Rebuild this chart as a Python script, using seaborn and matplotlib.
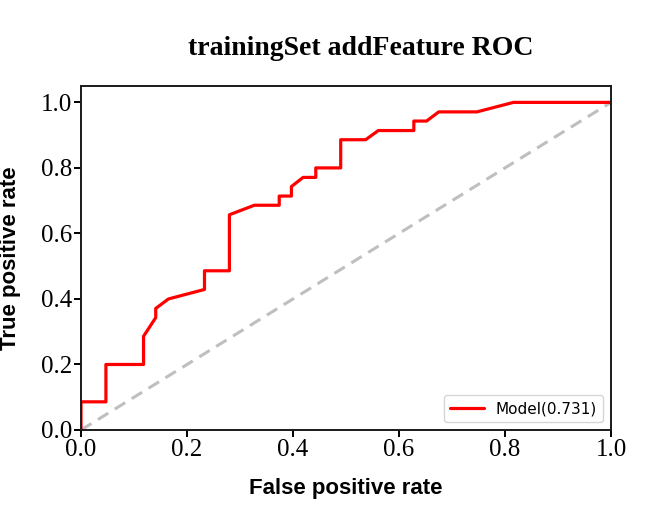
import matplotlib
matplotlib.use("Agg")
import matplotlib.pyplot as plt
import seaborn as sns
import pandas as pd

# ROC curve points
fpr = [0.0, 0.0, 0.047, 0.047, 0.118, 0.118, 0.141, 0.141, 0.165, 0.233, 0.233,
       0.280, 0.280, 0.327, 0.374, 0.374, 0.397, 0.397, 0.419, 0.443, 0.443,
       0.490, 0.490, 0.537, 0.561, 0.628, 0.628, 0.652, 0.675, 0.747, 0.816, 1.0]
tpr = [0.0, 0.086, 0.086, 0.200, 0.200, 0.286, 0.343, 0.371, 0.400, 0.429, 0.486,
       0.486, 0.657, 0.686, 0.686, 0.714, 0.714, 0.743, 0.771, 0.771, 0.800,
       0.800, 0.886, 0.886, 0.914, 0.914, 0.943, 0.943, 0.971, 0.971, 1.0, 1.0]
diag_x = [0.0, 1.0]
diag_y = [0.0, 1.0]
legend_label = "Model(0.731)"
title = "trainingSet addFeature ROC"
xlabel = "False positive rate"
ylabel = "True positive rate"
ticks = [0.0, 0.2, 0.4, 0.6, 0.8, 1.0]

sns.set_style("ticks")
plt.rcParams['font.family'] = ['DejaVu Sans']
plt.rcParams['text.color'] = 'black'
plt.rcParams['axes.labelcolor'] = 'black'
plt.rcParams['xtick.color'] = 'black'
plt.rcParams['ytick.color'] = 'black'

fig = plt.figure(figsize=(6.48, 5.08), dpi=100)
ax = fig.add_axes([81/648, 1 - 430/508, 530/648, 344/508])

df = pd.DataFrame({"fpr": fpr, "tpr": tpr})
ax.plot(diag_x, diag_y, linestyle=(0, (4, 2.5)), color="#bfbfbf", linewidth=2.2, zorder=1)
sns.lineplot(data=df, x="fpr", y="tpr", sort=False, estimator=None, color="red",
             linewidth=2.3, label=legend_label, ax=ax, zorder=2)

ax.set_xlim(0, 1.0)
ax.set_ylim(0, 1.05)
ax.set_xticks(ticks)
ax.set_yticks(ticks)
ax.set_xticklabels([f"{t:.1f}" for t in ticks], fontfamily="Liberation Serif", fontsize=18)
ax.set_yticklabels([f"{t:.1f}" for t in ticks], fontfamily="Liberation Serif", fontsize=18)
ax.tick_params(axis="both", direction="out", length=5, width=1.4, color="black", pad=1.5)
for s in ax.spines.values():
    s.set_color("#1a1a1a")
    s.set_linewidth(1.4)

ax.set_xlabel(xlabel, fontfamily="Liberation Sans", fontweight="bold", fontsize=16, labelpad=12)
ax.set_ylabel(ylabel, fontfamily="Liberation Sans", fontweight="bold", fontsize=16, labelpad=14)
ax.set_title(title, fontfamily="Liberation Serif", fontweight="bold", fontsize=20, pad=22, x=0.527)

leg = ax.legend(loc="lower right", fontsize=11, frameon=True, handlelength=2.2,
                borderaxespad=0.5)
leg.get_frame().set_edgecolor("#cccccc")

fig.savefig("out.png", dpi=100)
